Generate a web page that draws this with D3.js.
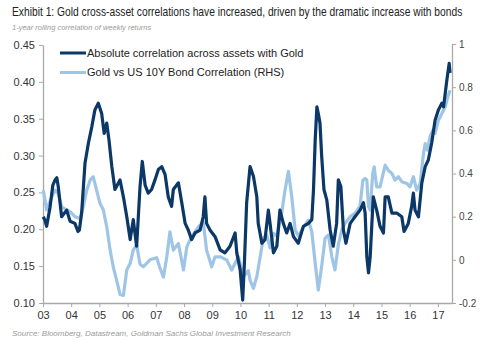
<!DOCTYPE html>
<html>
<head>
<meta charset="utf-8">
<script src="https://cdn.jsdelivr.net/npm/d3@7"></script>
<style>
  body { margin: 0; background: #fff; }
  text { font-family: "Liberation Sans", Arial, sans-serif; }
</style>
</head>
<body>
<div id="chart"></div>
<script>
// Chart data (dates as decimal years)

var darkDates = [2003.01, 2003.07, 2003.13, 2003.25, 2003.35, 2003.43, 2003.49, 2003.54, 2003.66, 2003.84,
    2003.96, 2004.13, 2004.24, 2004.29, 2004.37, 2004.49, 2004.61, 2004.73, 2004.84, 2004.96,
    2005.08, 2005.17, 2005.26, 2005.34, 2005.44, 2005.55, 2005.73, 2005.85, 2005.97, 2006.09,
    2006.20, 2006.32, 2006.44, 2006.52, 2006.62, 2006.73, 2006.85, 2006.97, 2007.09, 2007.21,
    2007.33, 2007.44, 2007.56, 2007.62, 2007.80, 2007.92, 2008.04, 2008.15, 2008.27, 2008.39,
    2008.57, 2008.68, 2008.74, 2008.80, 2008.92, 2009.10, 2009.28, 2009.45, 2009.63, 2009.81,
    2009.87, 2009.99, 2010.08, 2010.14, 2010.22, 2010.34, 2010.46, 2010.58, 2010.63, 2010.76,
    2010.87, 2010.99, 2011.05, 2011.17, 2011.29, 2011.40, 2011.52, 2011.64, 2011.76, 2011.88,
    2012.05, 2012.23, 2012.41, 2012.53, 2012.59, 2012.65, 2012.71, 2012.76, 2012.82, 2012.88,
    2012.96, 2013.06, 2013.18, 2013.29, 2013.41, 2013.47, 2013.56, 2013.65, 2013.74, 2013.89,
    2014.06, 2014.24, 2014.36, 2014.42, 2014.48, 2014.54, 2014.60, 2014.66, 2014.71, 2014.83,
    2014.95, 2015.07, 2015.13, 2015.24, 2015.37, 2015.54, 2015.72, 2015.80, 2015.95, 2016.07,
    2016.13, 2016.19, 2016.31, 2016.43, 2016.55, 2016.66, 2016.78, 2016.90, 2017.02, 2017.14,
    2017.20, 2017.32, 2017.40, 2017.43];

var darkValues = [0.217, 0.212, 0.204, 0.230, 0.260, 0.267, 0.270, 0.258, 0.217, 0.226,
    0.211, 0.208, 0.197, 0.199, 0.222, 0.290, 0.317, 0.339, 0.362, 0.371,
    0.357, 0.330, 0.344, 0.321, 0.285, 0.254, 0.267, 0.244, 0.217, 0.186,
    0.213, 0.177, 0.258, 0.292, 0.260, 0.249, 0.254, 0.267, 0.281, 0.285,
    0.274, 0.244, 0.231, 0.254, 0.263, 0.236, 0.208, 0.199, 0.186, 0.195,
    0.199, 0.217, 0.244, 0.208, 0.199, 0.190, 0.172, 0.168, 0.177, 0.195,
    0.168, 0.145, 0.104, 0.154, 0.236, 0.285, 0.272, 0.244, 0.208, 0.181,
    0.186, 0.226, 0.208, 0.168, 0.177, 0.226, 0.208, 0.195, 0.208, 0.190,
    0.181, 0.204, 0.208, 0.213, 0.254, 0.321, 0.366, 0.357, 0.344, 0.299,
    0.254, 0.240, 0.199, 0.177, 0.208, 0.267, 0.258, 0.199, 0.181, 0.208,
    0.217, 0.226, 0.236, 0.222, 0.163, 0.141, 0.163, 0.208, 0.244, 0.226,
    0.204, 0.195, 0.244, 0.244, 0.222, 0.222, 0.217, 0.197, 0.208, 0.231,
    0.249, 0.226, 0.217, 0.263, 0.285, 0.294, 0.317, 0.348, 0.362, 0.371,
    0.366, 0.403, 0.425, 0.412];

var lightDates = [2003.01, 2003.13, 2003.31, 2003.43, 2003.54, 2003.66, 2003.84, 2003.96, 2004.13, 2004.31,
    2004.43, 2004.55, 2004.67, 2004.78, 2004.90, 2005.02, 2005.14, 2005.26, 2005.38, 2005.49,
    2005.61, 2005.73, 2005.85, 2005.97, 2006.09, 2006.20, 2006.32, 2006.44, 2006.56, 2006.79,
    2007.03, 2007.15, 2007.27, 2007.39, 2007.50, 2007.62, 2007.80, 2007.98, 2008.10, 2008.27,
    2008.51, 2008.68, 2008.80, 2008.98, 2009.10, 2009.28, 2009.51, 2009.69, 2009.93, 2010.10,
    2010.28, 2010.34, 2010.46, 2010.58, 2010.70, 2010.81, 2010.93, 2011.05, 2011.17, 2011.29,
    2011.46, 2011.58, 2011.70, 2011.82, 2011.94, 2012.05, 2012.23, 2012.41, 2012.53, 2012.65,
    2012.76, 2012.88, 2013.00, 2013.12, 2013.24, 2013.35, 2013.47, 2013.59, 2013.71, 2013.89,
    2014.06, 2014.24, 2014.34, 2014.42, 2014.48, 2014.54, 2014.60, 2014.69, 2014.74, 2014.83,
    2014.95, 2015.13, 2015.24, 2015.37, 2015.48, 2015.60, 2015.72, 2015.90, 2016.01, 2016.13,
    2016.25, 2016.37, 2016.49, 2016.55, 2016.63, 2016.72, 2016.82, 2016.90, 2017.02, 2017.14,
    2017.26, 2017.35, 2017.43];

var lightValues = [0.323, 0.231, 0.292, 0.323, 0.308, 0.246, 0.231, 0.223, 0.200, 0.192,
    0.246, 0.323, 0.369, 0.385, 0.323, 0.262, 0.231, 0.153, 0.045, -0.032,
    -0.094, -0.160, -0.165, -0.047, -0.016, 0.045, 0.070, -0.020, -0.032, 0.000,
    0.010, -0.039, -0.080, 0.014, 0.130, 0.045, 0.076, -0.047, 0.061, 0.107,
    0.153, 0.176, 0.045, -0.032, 0.014, 0.014, 0.000, -0.047, 0.014, -0.078,
    -0.050, -0.094, -0.132, -0.078, 0.014, 0.100, 0.115, 0.055, 0.123, 0.110,
    0.215, 0.323, 0.410, 0.292, 0.138, 0.110, 0.150, 0.184, 0.130, -0.016,
    -0.140, -0.030, 0.100, 0.115, 0.014, -0.047, 0.070, 0.138, 0.169, 0.200,
    0.215, 0.250, 0.369, 0.377, 0.369, 0.246, 0.231, 0.400, 0.431, 0.338,
    0.338, 0.439, 0.415, 0.400, 0.369, 0.385, 0.362, 0.354, 0.338, 0.385,
    0.323, 0.354, 0.493, 0.539, 0.508, 0.570, 0.601, 0.586, 0.647, 0.678,
    0.709, 0.755, 0.786];

var yearTicks = [2003, 2004, 2005, 2006, 2007, 2008, 2009, 2010, 2011, 2012, 2013, 2014, 2015, 2016, 2017];
var leftTicks = [0.10, 0.15, 0.20, 0.25, 0.30, 0.35, 0.40, 0.45];
var rightTicks = [-0.2, 0, 0.2, 0.4, 0.6, 0.8, 1];
var seriesNames = ["Absolute correlation across assets with Gold", "Gold vs US 10Y Bond Correlation (RHS)"];

var svgWidth = 500;
var svgHeight = 340;
var plot = { left: 43, right: 452, top: 45, bottom: 303 };

var darkColor = "#0b3866";
var lightColor = "#9fc5e6";

var svg = d3.select("#chart")
    .append("svg")
    .attr("width", svgWidth)
    .attr("height", svgHeight);

// Scales
var xScale = d3.scaleLinear()
    .domain([2003, 2017.5])
    .range([plot.left, plot.right]);

var yLeft = d3.scaleLinear()
    .domain([0.10, 0.45])
    .range([plot.bottom, plot.top]);

var yRight = d3.scaleLinear()
    .domain([-0.2, 1])
    .range([plot.bottom, plot.top - 1]);

// Titles - the title font is condensed, so squeeze it horizontally to fit its width
var title = svg.append("text")
    .attr("x", 0)
    .attr("y", 0)
    .style("font-size", "12.5px")
    .attr("fill", "#222")
    .text("Exhibit 1: Gold cross-asset correlations have increased, driven by the dramatic increase with bonds");

var titleWidth = title.node().getComputedTextLength();
title.attr("transform", `translate(12, 16) scale(${451 / titleWidth}, 1)`);

svg.append("text")
    .attr("x", 12)
    .attr("y", 30)
    .style("font-size", "7.5px")
    .style("font-style", "italic")
    .attr("fill", "#9a9a9a")
    .text("1-year rolling correlation of weekly returns");

svg.append("text")
    .attr("x", 12)
    .attr("y", 336)
    .style("font-size", "8px")
    .style("font-style", "italic")
    .attr("fill", "#9a9a9a")
    .text("Source: Bloomberg, Datastream, Goldman Sachs Global Investment Research");

// Axes
var leftAxis = svg.append("g")
    .attr("transform", `translate(${plot.left}, 0)`)
    .call(d3.axisLeft(yLeft).tickValues(leftTicks).tickFormat(d3.format(".2f")).tickSize(4).tickSizeOuter(0).tickPadding(4));

var rightAxis = svg.append("g")
    .attr("transform", `translate(${plot.right}, 0)`)
    .call(d3.axisRight(yRight).tickValues(rightTicks).tickFormat(d => String(d)).tickSize(4).tickSizeOuter(0).tickPadding(3));

var bottomAxis = svg.append("g")
    .attr("transform", `translate(0, ${plot.bottom})`)
    .call(d3.axisBottom(xScale).tickValues(yearTicks).tickFormat(d => String(d).slice(2)).tickSize(4).tickSizeOuter(0).tickPadding(4));

[leftAxis, rightAxis, bottomAxis].forEach(function(ax) {
    ax.select(".domain").attr("stroke", "#a8a8a8").attr("stroke-width", 1.3);
    ax.selectAll(".tick line").attr("stroke", "#a8a8a8");
    ax.selectAll(".tick text")
        .attr("fill", "#333")
        .style("font-family", "'Liberation Sans', Arial, sans-serif")
        .style("font-size", "11px");
});
rightAxis.selectAll(".tick text").style("font-size", "10px").attr("fill", "#444");

// Lines
var lightLine = d3.line()
    .x((d, i) => xScale(lightDates[i]))
    .y(d => yRight(d));

var darkLine = d3.line()
    .x((d, i) => xScale(darkDates[i]))
    .y(d => yLeft(d));

svg.append("path")
    .datum(lightValues)
    .attr("fill", "none")
    .attr("stroke", lightColor)
    .attr("stroke-width", 3.2)
    .attr("stroke-linejoin", "round")
    .attr("d", lightLine);

svg.append("path")
    .datum(darkValues)
    .attr("fill", "none")
    .attr("stroke", darkColor)
    .attr("stroke-width", 3.2)
    .attr("stroke-linejoin", "round")
    .attr("d", darkLine);

// Legend
var legend = svg.selectAll(".legendItem")
    .data(seriesNames)
    .enter()
    .append("g")
    .classed("legendItem", true)
    .attr("transform", (d, i) => `translate(60, ${53 + i * 19.5})`);

legend.append("line")
    .attr("x1", 0)
    .attr("x2", 26)
    .attr("stroke", (d, i) => i === 0 ? darkColor : lightColor)
    .attr("stroke-width", 3);

legend.append("text")
    .attr("x", 27)
    .attr("dy", "0.35em")
    .style("font-size", "11px")
    .attr("fill", "#222")
    .text(d => d);
</script>
</body>
</html>
